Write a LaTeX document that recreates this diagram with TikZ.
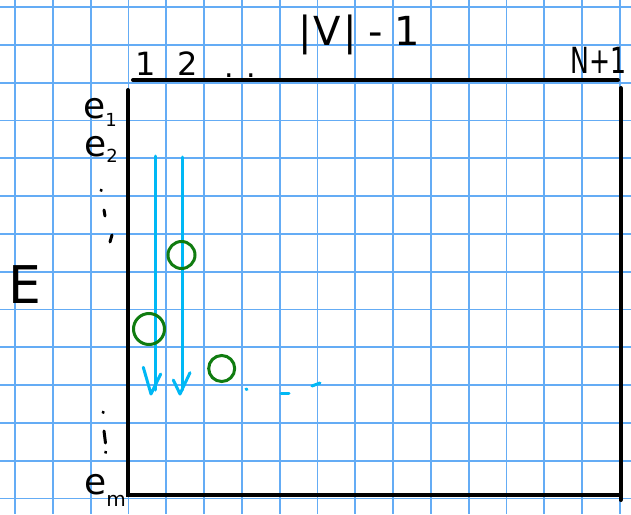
\documentclass[tikz,border=0pt]{standalone}
\usepackage{fontspec}
\setmainfont{DejaVu Sans}
\definecolor{gridblue}{RGB}{100,172,245}
\definecolor{flowblue}{RGB}{0,184,245}
\definecolor{hitgreen}{RGB}{16,124,16}
\begin{document}
\begin{tikzpicture}[x=1pt,y=-1pt,
  gridline/.style={draw=gridblue, line width=1.8pt},
  axisline/.style={draw=black, line width=4pt, line cap=round},
  flow/.style={draw=flowblue, line width=3pt, line cap=round, line join=round},
  hit/.style={circle, draw=hitgreen, line width=3pt, inner sep=0pt},
  lbl/.style={inner sep=0pt, text=black},
  penmark/.style={draw=black, line width=3pt, line cap=round}]
\useasboundingbox (0,0) rectangle (631,514);
\fill[white] (0,0) rectangle (631,514);
% grid paper
\foreach \k in {0,...,16} \draw[gridline] ({15+37.8*\k},0) -- ({15+37.8*\k},514);
\foreach \k in {0,...,13} \draw[gridline] (0,{7+37.8*\k}) -- (631,{7+37.8*\k});
% matrix frame
\coordinate (tl) at (133,80);
\coordinate (tr) at (618,80);
\coordinate (lt) at (128,90);
\coordinate (lb) at (128,495);
\coordinate (br) at (620,495);
\coordinate (rt) at (620.5,88);
\coordinate (rb) at (620.5,500);
\draw[axisline] (tl) -- (tr);
\draw[axisline] (lt) -- (lb) -- (br);
\draw[axisline] (rt) -- (rb);
% top labels
\node[lbl, font=\fontsize{40}{40}\selectfont, anchor=base west] (vlabel) at (298,45) {|\hspace{2pt}V\hspace{2pt}|\hspace{12pt}-\hspace{12pt}1};
\node[lbl, font=\fontsize{32}{32}\selectfont, anchor=base] (c1lab) at (146,75) {1};
\node[lbl, font=\fontsize{32}{32}\selectfont, anchor=base] (c2lab) at (188,75) {2};
\node[lbl, font=\fontsize{30}{30}\selectfont, anchor=base west] (cdots) at (224,77) {. .};
\node[lbl, font=\fontsize{36}{36}\selectfont, anchor=base west] (nlab) at (570,73) {\scalebox{0.7}[1]{N+1}};
% left labels
\node[lbl, font=\fontsize{36}{36}\selectfont, anchor=base west] (e1) at (83,118) {e\raisebox{-8pt}{\fontsize{18}{18}\selectfont 1}};
\node[lbl, font=\fontsize{36}{36}\selectfont, anchor=base west] (e2) at (84,156) {e\raisebox{-6pt}{\fontsize{18}{18}\selectfont 2}};
\node[lbl, font=\fontsize{52}{52}\selectfont, anchor=base west] (E) at (8,303) {E};
\node[lbl, font=\fontsize{36}{36}\selectfont, anchor=base west] (em) at (84,494) {e\raisebox{-12pt}{\fontsize{20}{20}\selectfont m}};
% vertical ellipsis marks
\draw[penmark] (101,190) -- (101.3,190.6);
\draw[penmark] (104,210) -- (105,216);
\draw[penmark] (112,235) -- (110,242);
\draw[penmark] (103,412) -- (103.3,412.6);
\draw[penmark] (104,431) -- (105.5,443);
\draw[penmark] (105.5,452) -- (105.8,452.5);
% blue column arrows
\coordinate (a1s) at (155,156);
\coordinate (a1e) at (155,390);
\coordinate (a2s) at (182.7,157);
\coordinate (a2e) at (182.7,390);
\draw[flow] (a1s) -- (a1e);
\draw[flow] (143.3,367.3) -- (151,394) -- (160.7,374);
\draw[flow] (a2s) -- (a2e);
\draw[flow] (173.3,380) -- (180,394) -- (190,372.7);
% green circles
\node[hit, minimum size=27pt] (g1) at (181.5,255) {};
\node[hit, minimum size=31pt] (g2) at (149,329) {};
\node[hit, minimum size=26pt] (g3) at (221.7,368.5) {};
% blue trailing dashes
\draw[flow] (246,389) -- (247,389.5);
\draw[flow] (281,393) -- (289,393);
\draw[flow] (312,386) -- (320,383);
\end{tikzpicture}
\end{document}
